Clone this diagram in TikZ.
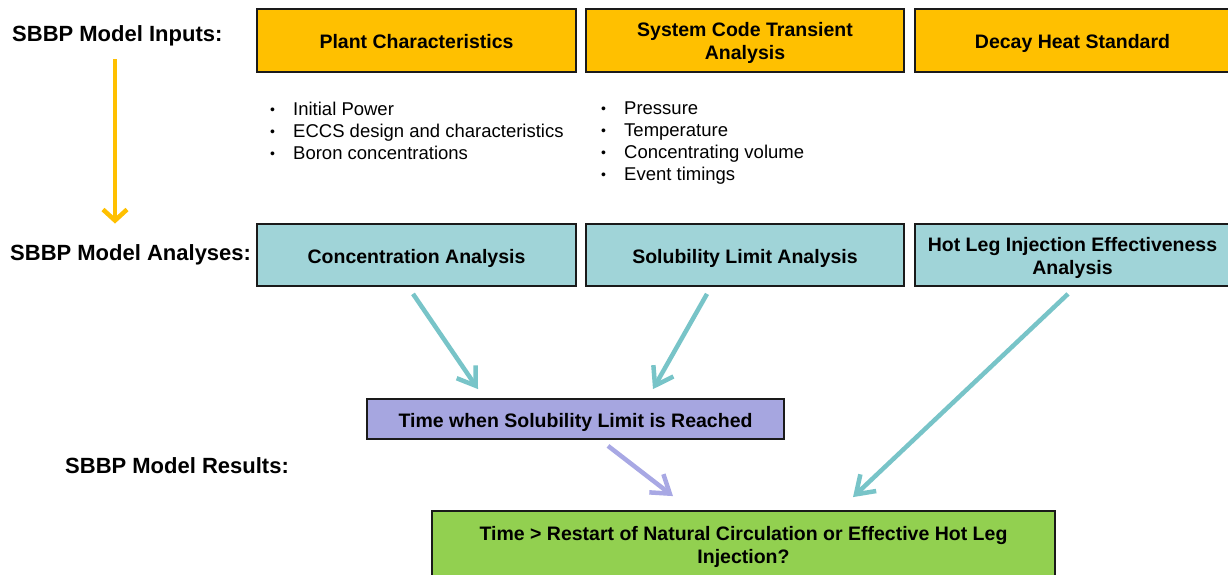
\documentclass[tikz,border=0pt]{standalone}
\usepackage{fontspec}
\setmainfont{Liberation Sans}
\usetikzlibrary{arrows.meta,calc}
\definecolor{ygold}{HTML}{FFC000}
\definecolor{tealbox}{HTML}{A0D4D8}
\definecolor{tealarr}{HTML}{78C4C8}
\definecolor{purpbox}{HTML}{A6A6E0}
\definecolor{purparr}{HTML}{A8A8E4}
\definecolor{greenbox}{HTML}{92D050}
\definecolor{edge}{HTML}{1A1A1A}
\newcommand{\bul}{\makebox[27pt][l]{\hspace{4pt}\raisebox{1pt}{\fontsize{14}{14}\selectfont •}}}
\newcommand{\tp}{\rule{0pt}{20pt}}
\newcommand{\sg}{\rule[-4.5pt]{0pt}{25pt}}
\begin{document}
\begin{tikzpicture}[x=1pt,y=-1pt,
  box/.style={draw=edge, line width=1.8pt, align=center, inner sep=0pt,
    font=\bfseries\fontsize{19.5}{23}\selectfont},
  label/.style={anchor=west, inner sep=0pt, font=\bfseries\fontsize{22}{24}\selectfont},
  blist/.style={anchor=north west, inner sep=0pt, align=left, font=\fontsize{18.5}{22}\selectfont},
  conn/.style={line width=4.5pt, -{Straight Barb[length=17pt,width=23pt]}},
  yconn/.style={line width=4.5pt, -{Straight Barb[length=11pt,width=24pt]}}
]
\useasboundingbox (0,0) rectangle (1228,575);
\clip (0,0) rectangle (1228,575);

% labels
\node[label] (inlabel) at (12,36) {SBBP Model Inputs:};
\node[label] (anlabel) at (10,255) {SBBP Model Analyses:};
\node[label] (reslabel) at (65,466) {SBBP Model Results:};

% input boxes
\node[box, fill=ygold, minimum width=319pt, minimum height=63pt] (plant) at (416.5,40.5) {\sg Plant Characteristics};
\node[box, fill=ygold, minimum width=318pt, minimum height=63pt] (syscode) at (745,40.5) {\tp System Code Transient\\Analysis};
\node[box, fill=ygold, minimum width=315pt, minimum height=63pt] (decay) at (1072.5,40.5) {\sg Decay Heat Standard};

% bullet lists
\node[blist] (plist) at (266,102) {\bul Initial Power\\\bul ECCS design and characteristics\\\bul Boron concentrations};
\node[blist] (slist) at (597,102) {\bul Pressure\\\bul Temperature\\\bul Concentrating volume\\\bul Event timings};

% analysis boxes
\node[box, fill=tealbox, minimum width=319pt, minimum height=62pt] (conc) at (416.5,255) {\sg Concentration Analysis};
\node[box, fill=tealbox, minimum width=318pt, minimum height=62pt] (sol) at (745,255) {\sg Solubility Limit Analysis};
\node[box, fill=tealbox, minimum width=315pt, minimum height=62pt] (hot) at (1072.5,255) {\tp Hot Leg Injection Effectiveness\\Analysis};

% results
\node[box, fill=purpbox, minimum width=417pt, minimum height=40pt] (time) at (575.5,419) {\sg Time when Solubility Limit is Reached};
\node[box, fill=greenbox, minimum width=623pt, minimum height=66pt] (green) at (743.5,544) {\tp Time > Restart of Natural Circulation or Effective Hot Leg\\Injection?};

% connectors
\draw[yconn, draw=ygold] ($(inlabel.south west)+(103,13)$) -- ($(anlabel.north west)+(105,-21)$);
\draw[conn, draw=tealarr] ($(conc.south)+(-3.5,7)$) -- ($(time.north)+(-97.5,-9)$);
\draw[conn, draw=tealarr] ($(sol.south)+(-38,7)$) -- ($(time.north)+(77.5,-9)$);
\draw[conn, draw=tealarr] ($(hot.south)+(-4.5,7)$) -- ($(green.north)+(109.5,-13)$);
\draw[conn, draw=purparr] ($(time.south)+(32.5,6)$) -- ($(green.north)+(-70.5,-14)$);
\end{tikzpicture}
\end{document}
